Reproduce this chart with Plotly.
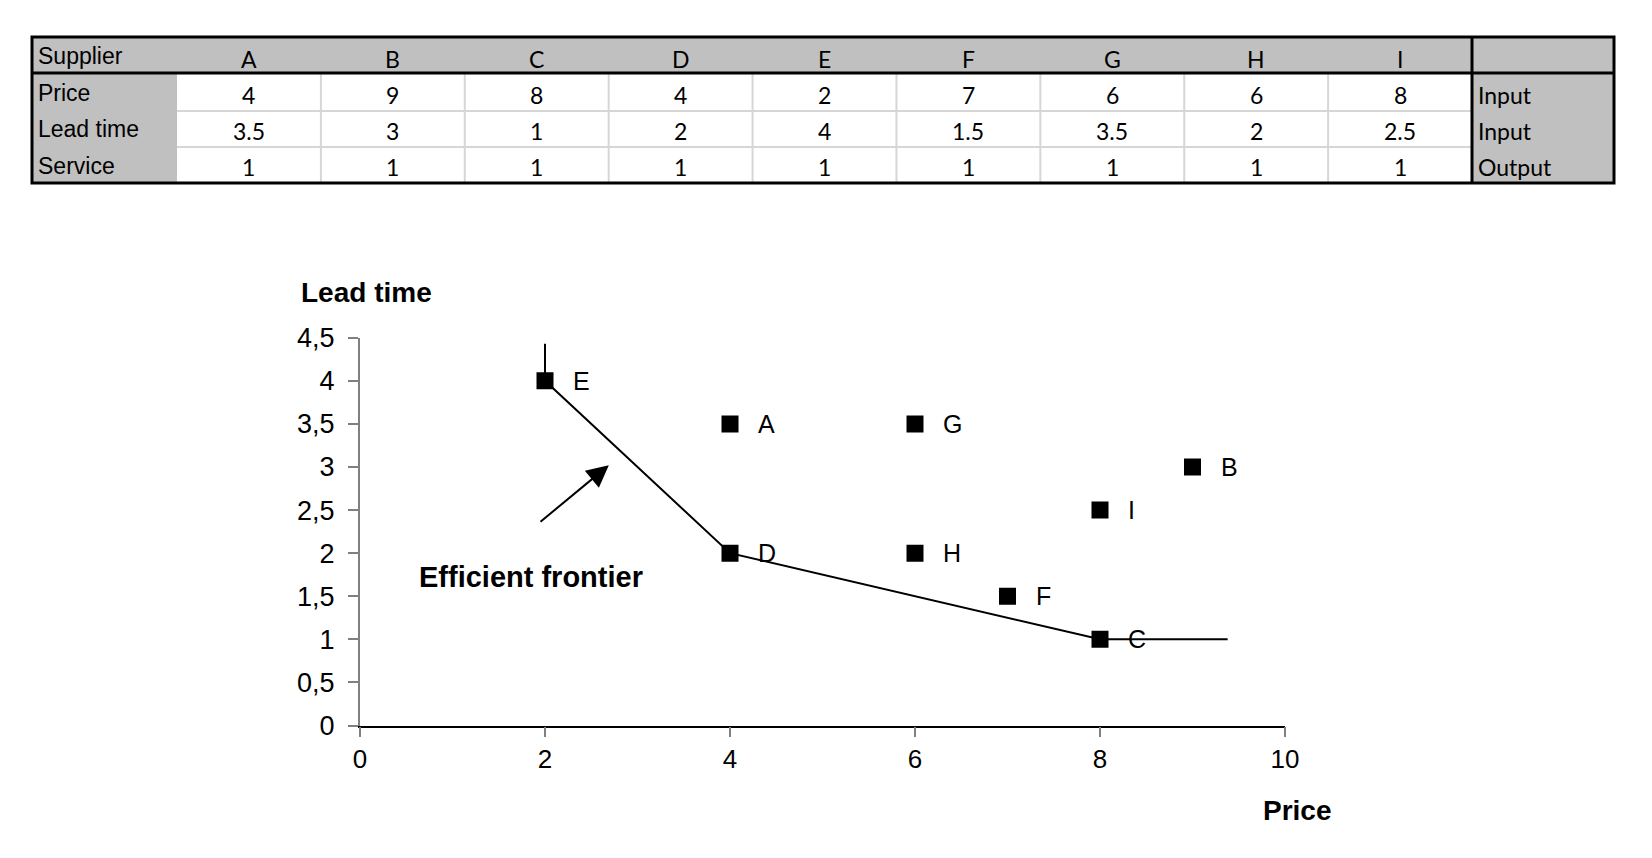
import plotly.graph_objects as go

# ── Data ──────────────────────────────────────────────────────────────────────
suppliers = ["A", "B", "C", "D", "E", "F", "G", "H", "I"]
price     = [4, 9, 8, 4, 2, 7, 6, 6, 8]
lead_time = [3.5, 3, 1, 2, 4, 1.5, 3.5, 2, 2.5]
service   = [1, 1, 1, 1, 1, 1, 1, 1, 1]
row_names = ["Price", "Lead time", "Service"]
row_roles = ["Input", "Input", "Output"]

frontier_x = [2, 2, 4, 8, 9.38]
frontier_y = [4.43, 4, 2, 1, 1]

arrow_tail = (1.935, 2.35)
arrow_head = (2.69, 3.02)

x_ticks = [0, 2, 4, 6, 8, 10]
y_ticks = [0, 0.5, 1, 1.5, 2, 2.5, 3, 3.5, 4, 4.5]
y_ticktext = [f"{v:g}".replace(".", ",") for v in y_ticks]

# ── Page geometry (pixels) ────────────────────────────────────────────────────
W, H = 1652, 858
ARIAL = "Liberation Sans"
CALIBRI = "Lato"
GRAY = "#c0c0c0"
GRID = "#d6d6d6"


def px(x):
    return x / W


def py(y):
    return 1 - y / H


T_X0, T_X1 = 32, 1614
LABEL_W = 145
LAST_X0 = 1472
COL_W = (LAST_X0 - T_X0 - LABEL_W) / len(suppliers)
ROW_Y = [37, 73, 111, 147, 183]

shapes = []
annotations = []


def rect(x0, y0, x1, y1, **kw):
    shapes.append(dict(type="rect", xref="paper", yref="paper",
                       x0=px(x0), y0=py(y0), x1=px(x1), y1=py(y1), **kw))


def line(x0, y0, x1, y1, color, width):
    shapes.append(dict(type="line", xref="paper", yref="paper",
                       x0=px(x0), y0=py(y0), x1=px(x1), y1=py(y1),
                       line=dict(color=color, width=width)))


def text(x, y, s, font, size, anchor="center"):
    annotations.append(dict(xref="paper", yref="paper", x=px(x), y=py(y),
                            text=s, showarrow=False, xanchor=anchor,
                            yanchor="middle",
                            font=dict(family=font, size=size, color="black")))


# ── Table ─────────────────────────────────────────────────────────────────────
data_x0 = T_X0 + LABEL_W
rect(T_X0, ROW_Y[0], T_X1, ROW_Y[-1], fillcolor=GRAY, line=dict(width=0), layer="below")
rect(data_x0, ROW_Y[1], LAST_X0, ROW_Y[-1], fillcolor="white", line=dict(width=0), layer="below")
for k in range(1, len(suppliers)):
    xk = data_x0 + k * COL_W
    line(xk, ROW_Y[1], xk, ROW_Y[-1], GRID, 2)
for yk in ROW_Y[2:-1]:
    line(data_x0, yk, LAST_X0, yk, GRID, 2)
line(T_X0, ROW_Y[1], T_X1, ROW_Y[1], "black", 3)
line(LAST_X0, ROW_Y[0], LAST_X0, ROW_Y[-1], "black", 3)
rect(T_X0, ROW_Y[0], T_X1, ROW_Y[-1], line=dict(color="black", width=3))

text(T_X0 + 4, 56, "Supplier", ARIAL, 23, "left")
label_y = [93, 129, 166]
for name, ly in zip(row_names, label_y):
    text(T_X0 + 4, ly, name, ARIAL, 23, "left")

value_y = [95, 131, 167]
for i, s in enumerate(suppliers):
    cx = data_x0 + (i + 0.5) * COL_W
    text(cx, 59, s, CALIBRI, 23)
    for vals, vy in zip([price, lead_time, service], value_y):
        text(cx, vy, f"{vals[i]:g}", CALIBRI, 23)
for role, vy in zip(row_roles, value_y):
    text(LAST_X0 + 4, vy, role, CALIBRI, 23, "left")

# ── Chart ─────────────────────────────────────────────────────────────────────
fig = go.Figure()

fig.add_trace(go.Scatter(
    x=frontier_x, y=frontier_y, mode="lines",
    line=dict(color="black", width=2), hoverinfo="skip",
))
fig.add_trace(go.Scatter(
    x=price, y=lead_time, mode="markers", text=suppliers,
    marker=dict(symbol="square", size=17, color="black"),
))

for s, xv, yv in zip(suppliers, price, lead_time):
    annotations.append(dict(x=xv, y=yv, xref="x", yref="y", text=s,
                            showarrow=False, xanchor="left", yanchor="middle",
                            xshift=26, font=dict(family=ARIAL, size=25, color="black")))

annotations.append(dict(x=arrow_head[0], y=arrow_head[1], ax=arrow_tail[0], ay=arrow_tail[1],
                        xref="x", yref="y", axref="x", ayref="y", text="",
                        showarrow=True, arrowhead=2, arrowsize=2.2, arrowwidth=2,
                        arrowcolor="black"))
annotations.append(dict(x=0.62, y=1.72, xref="x", yref="y", text="<b>Efficient frontier</b>",
                        showarrow=False, xanchor="left", yanchor="middle",
                        font=dict(family=ARIAL, size=29, color="black")))

text(366, 292, "<b>Lead time</b>", ARIAL, 28)
text(1297, 810, "<b>Price</b>", ARIAL, 28)

fig.update_layout(
    width=W, height=H,
    margin=dict(l=0, r=0, t=0, b=0),
    paper_bgcolor="white", plot_bgcolor="white",
    showlegend=False,
    shapes=shapes, annotations=annotations,
    xaxis=dict(domain=[px(360), px(1285)], range=[0, 10], tickvals=x_ticks,
               showgrid=False, zeroline=False, showline=True, linecolor="black",
               linewidth=1.5, ticks="outside", ticklen=10, tickcolor="#808080",
               tickwidth=2, tickfont=dict(family=ARIAL, size=26, color="black"),
               automargin=False),
    yaxis=dict(domain=[py(725.5), py(337.7)], range=[0, 4.5], tickvals=y_ticks,
               ticktext=y_ticktext, showgrid=False, zeroline=False, showline=True,
               linecolor="#808080", linewidth=2, ticks="outside", ticklen=10,
               tickcolor="#808080", tickwidth=2, ticklabelstandoff=8,
               tickfont=dict(family=ARIAL, size=27, color="black"),
               automargin=False),
)

fig.write_html("out.html", config={"displayModeBar": False},
               post_script="document.body.style.margin = '0';")
